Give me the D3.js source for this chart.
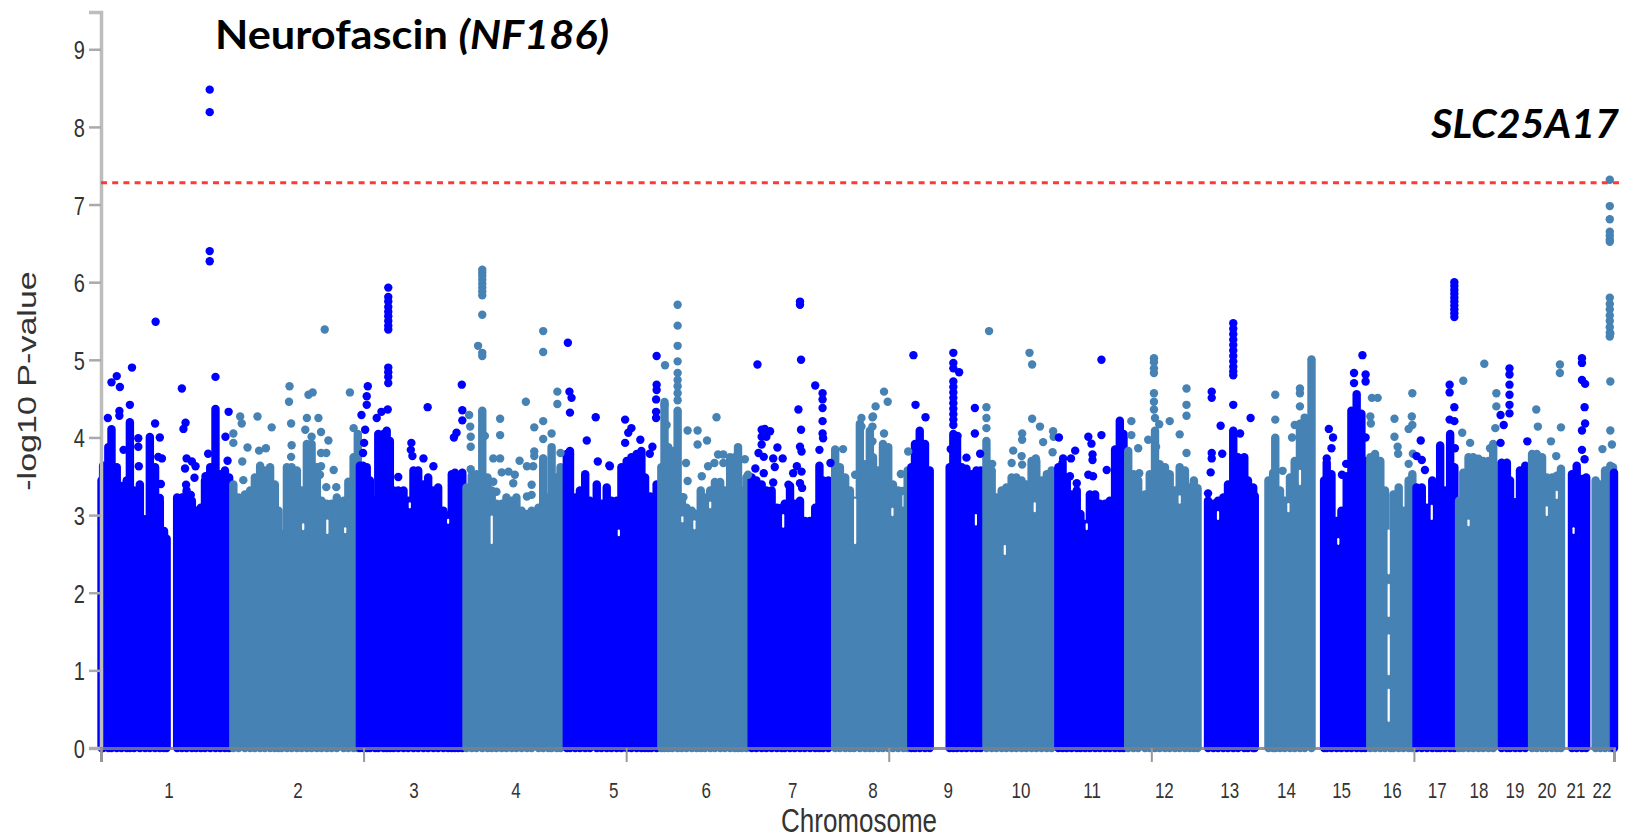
<!DOCTYPE html>
<html>
<head>
<meta charset="utf-8">
<script src="https://cdn.jsdelivr.net/npm/d3@7"></script>
<style>
  html, body { margin: 0; padding: 0; background: #fff; }
  svg { display: block; }
  text { font-family: "Liberation Sans", Arial, sans-serif; fill: #333; }
  .note { font-family: Lato, "Noto Sans", sans-serif; font-weight: 700; fill: #000; }
</style>
</head>
<body>
<div id="chart"></div>
<script>
// chromosome names and where each one ends on the genome axis (Mb)
const chromosomes = ["1","2","3","4","5","6","7","8","9","10","11","12","13","14","15","16","17","18","19","20","21","22"];
const chromEnds = [249,492,690,881,1062,1233,1392,1538,1679,1815,1950,2090,2199,2306,2409,2499,2580,2658,2717,2780,2828,2879];
const genomeEnd = 2881;
const xTicks = [0,500,1000,1500,2000,2500,2881];
const yTicks = [0,1,2,3,4,5,6,7,8,9];
const threshold = 7.28;

// top of the solid mass of points: [position Mb, -log10 P]
const skyline = [
  [1,3.5],[4,3.69],[14,3.93],[20,4.16],[30,3.67],[39,3.43],[49,3.5],[55,4.25],[63,3.37],[74,3.45],[84,3.0],[93,4.06],[103,3.67],[112,3.24],[120,2.85],[125,2.75],
  [145,3.28],[154,3.28],[163,3.37],[173,3.24],[181,3.11],[190,3.15],[198,3.5],[208,3.67],[218,4.42],[227,3.58],[236,3.63],[244,3.54],
  [252,3.45],[262,3.28],[274,3.32],[284,3.37],[293,3.54],[303,3.69],[312,3.63],[322,3.67],[331,3.45],[338,3.11],[344,2.81],[354,3.67],[363,3.67],[373,3.63],[382,3.37],[392,3.97],[401,3.97],[411,3.67],[420,3.24],[430,3.2],[439,3.2],[449,3.28],[462,3.24],[471,3.45],[481,3.8],[489,4.1],
  [493,3.69],[499,3.69],[506,3.67],[512,3.5],[522,3.24],[528,4.1],[538,4.1],[544,4.14],[550,4.01],[557,3.37],[566,3.37],[576,3.37],[585,3.24],[595,3.63],[604,3.63],[614,3.45],[623,3.54],[633,3.37],[642,3.41],[652,3.11],[661,3.05],[668,3.58],[674,3.6],[680,3.32],[688,3.6],
  [696,3.41],[706,3.56],[715,3.58],[726,4.4],[736,3.54],[744,3.37],[753,3.2],[763,3.2],[772,3.28],[782,3.24],[791,3.28],[801,3.11],[811,3.07],[820,3.11],[833,3.15],[842,3.78],[852,3.28],[858,3.93],[868,3.54],[875,3.67],
  [887,3.84],[893,3.88],[903,3.28],[912,3.37],[922,3.58],[931,3.24],[944,3.45],[953,3.2],[963,3.41],[972,3.24],[982,3.24],[991,3.67],[1001,3.75],[1010,3.8],[1020,3.84],[1029,3.88],[1036,3.54],[1042,3.07],[1048,3.28],[1058,3.45],
  [1067,3.67],[1073,4.51],[1080,3.93],[1088,3.88],[1098,4.4],[1106,3.28],[1115,3.15],[1125,3.11],[1134,3.07],[1142,3.37],[1150,3.28],[1160,3.37],[1169,3.48],[1179,3.48],[1188,3.37],[1198,3.8],[1207,3.8],[1213,3.93],[1220,3.37],[1229,3.54],
  [1239,3.54],[1248,3.5],[1258,3.45],[1267,3.37],[1277,3.37],[1287,3.15],[1296,3.15],[1302,3.2],[1312,3.43],[1321,3.2],[1331,3.24],[1340,2.98],[1350,2.98],[1360,3.15],[1368,3.69],[1375,3.5],[1385,3.5],
  [1398,3.9],[1407,3.67],[1417,3.54],[1426,3.37],[1434,3.24],[1445,4.23],[1455,3.71],[1464,4.14],[1470,3.8],[1480,3.63],[1489,3.97],[1499,3.93],[1508,3.45],[1518,3.37],[1528,3.11],[1536,3.63],
  [1543,3.67],[1550,3.97],[1559,4.14],[1569,3.97],[1578,3.63],
  [1616,3.67],[1623,4.1],[1630,4.05],[1639,3.67],[1648,3.65],[1658,3.58],[1667,3.63],[1675,3.63],
  [1686,4.01],[1696,3.63],[1705,3.28],[1715,3.37],[1724,3.41],[1734,3.54],[1743,3.54],[1753,3.5],[1762,3.45],[1772,3.75],[1781,3.75],[1791,3.5],[1801,3.58],[1810,3.63],
  [1823,3.67],[1831,3.73],[1839,3.54],[1848,3.32],[1858,3.37],[1865,3.07],[1874,2.94],[1883,3.32],[1893,3.32],[1902,3.2],[1912,3.2],[1921,3.24],[1931,3.9],[1940,4.27],[1947,4.1],
  [1956,3.88],[1966,3.58],[1975,3.5],[1988,3.32],[1997,3.58],[2007,4.14],[2016,3.71],[2026,3.67],[2035,3.58],[2045,3.37],[2054,3.67],[2064,3.63],[2073,3.41],[2081,3.5],[2088,3.4],
  [2108,3.24],[2118,3.2],[2127,3.24],[2137,3.28],[2146,3.45],[2156,4.14],[2165,3.8],[2177,3.8],[2184,3.5],[2194,3.41],[2197,3.3],
  [2223,3.5],[2232,3.6],[2236,4.05],[2245,3.37],[2254,3.24],[2264,3.54],[2273,3.75],[2283,4.23],[2292,4.31],[2305,5.06],
  [2329,3.5],[2334,3.73],[2343,3.58],[2353,2.98],[2362,3.11],[2372,3.54],[2381,4.4],[2391,4.61],[2400,4.36],[2407,3.75],
  [2417,3.8],[2426,3.84],[2436,3.75],[2445,3.37],[2455,2.81],[2461,3.32],[2471,3.41],[2480,3.11],[2490,3.5],[2497,3.58],
  [2505,3.41],[2515,3.41],[2525,3.15],[2535,3.5],[2544,3.37],[2550,3.95],[2559,3.37],[2569,4.1],[2577,3.67],
  [2586,3.24],[2594,3.6],[2604,3.8],[2613,3.8],[2623,3.78],[2632,3.75],[2642,3.75],[2651,3.97],
  [2667,3.73],[2677,3.73],[2683,3.5],[2693,3.22],[2702,3.63],[2712,3.69],
  [2725,3.84],[2734,3.84],[2744,3.8],[2753,3.54],[2763,3.54],[2772,3.56],[2780,3.65],
  [2801,3.58],[2810,3.69],[2820,3.52],[2828,3.54],
  [2846,3.5],[2855,3.45],[2864,3.63],[2874,3.69],[2879,3.67],[2881,3.6]
];

// single points standing clear of the mass: [position Mb, -log10 P]
const peaks = [
  // chr 1
  [207,8.48],[207,8.19],[207,6.4],[207,6.27],[104,5.49],[59,4.9],[30,4.79],[20,4.71],[36,4.65],[55,4.42],[35,4.34],[35,4.28],[13,4.25],[103,4.18],[154,4.63],[218,4.78],[161,4.19],[157,4.11],[243,4.33],[237,4.01],[204,3.79],[71,3.99],[71,3.88],[112,4.0],[109,3.75],[116,3.73],[43,3.84],[163,3.73],[173,3.69],[180,3.63],[160,3.6],[178,3.48],[199,3.5],[199,3.38],[162,3.39],[171,3.26],[241,3.7],[72,3.63],[114,3.4],[112,3.22],
  // chr 2
  [359,4.66],[358,4.46],[298,4.27],[265,4.27],[268,4.18],[325,4.13],[362,4.18],[395,4.55],[403,4.58],[474,4.58],[426,5.39],[392,4.25],[414,4.25],[389,4.1],[401,4.01],[419,4.07],[433,3.96],[252,4.05],[252,3.93],[279,3.87],[301,3.83],[314,3.86],[363,3.9],[362,3.75],[269,3.69],[271,3.45],[419,3.8],[429,3.8],[419,3.63],[417,3.52],[443,3.58],[429,3.36],[448,3.36],[471,3.43],[481,4.12],
  // chr 3
  [547,5.93],[547,5.81],[547,5.75],[547,5.68],[547,5.62],[547,5.56],[547,5.5],[547,5.44],[547,5.39],[547,4.9],[547,4.84],[547,4.78],[547,4.7],[508,4.66],[506,4.53],[506,4.42],[496,4.29],[503,4.1],[501,3.93],[499,3.8],[546,4.36],[534,4.33],[525,4.25],[622,4.39],[687,4.68],[677,4.06],[672,4.0],[688,4.35],[688,4.22],[591,3.93],[590,3.84],[593,3.76],[614,3.73],[633,3.63],[566,3.49],
  // chr 4
  [726,6.16],[726,6.12],[726,6.08],[726,6.03],[726,5.98],[726,5.93],[726,5.88],[726,5.83],[726,5.58],[718,5.18],[726,5.09],[726,5.05],[842,5.37],[842,5.1],[809,4.46],[869,4.59],[869,4.43],[760,4.24],[760,4.03],[825,4.13],[842,4.21],[842,3.98],[858,4.05],[701,4.29],[703,4.14],[704,4.01],[704,3.88],[731,4.02],[747,3.73],[760,3.73],[797,3.7],[825,3.82],[825,3.76],[842,3.73],[811,3.63],[823,3.63],[875,3.8],[704,3.59],[763,3.55],[776,3.56],[788,3.52],[747,3.43],[753,3.3],[785,3.41],[820,3.39],[811,3.24],[820,3.26],
  // chr 5
  [889,5.22],[892,4.59],[896,4.51],[893,4.32],[942,4.26],[925,3.96],[946,3.69],[968,3.64],[893,3.78],[998,4.23],[1010,4.12],[1004,4.06],[998,3.93],[1027,3.97],[1050,3.88],[1045,3.79],[1058,5.05],[1058,4.68],[1058,4.61],[1057,4.49],[1057,4.33],[1057,4.25],[969,3.63],[1046,3.24],
  // chr 6
  [1074,4.93],[1098,5.71],[1098,5.44],[1098,5.18],[1098,4.98],[1098,4.83],[1098,4.74],[1098,4.66],[1098,4.57],[1098,4.48],[1073,4.42],[1077,4.16],[1117,4.09],[1136,4.09],[1136,3.91],[1154,3.96],[1172,4.26],[1114,3.67],[1117,3.44],[1226,3.72],[1144,3.5],[1156,3.63],[1109,3.23],[1175,3.78],[1185,3.78],[1185,3.67],[1168,3.67],[1232,3.52],
  // chr 7
  [1250,4.94],[1331,5.75],[1331,5.71],[1333,5.0],[1360,4.67],[1374,4.57],[1374,4.49],[1374,4.38],[1374,4.21],[1374,4.05],[1375,3.99],[1328,4.36],[1333,4.1],[1258,4.1],[1264,4.11],[1274,4.08],[1258,4.01],[1267,4.01],[1288,3.87],[1258,3.91],[1252,3.8],[1262,3.75],[1280,3.73],[1298,3.73],[1283,3.62],[1331,3.88],[1334,3.82],[1325,3.63],[1334,3.56],[1318,3.54],[1331,3.41],[1335,3.35],[1368,3.84],[1389,3.67],[1246,3.6],[1262,3.54],[1280,3.42],[1309,3.39],
  // chr 8
  [1413,3.85],[1436,3.52],[1448,4.25],[1448,4.14],[1469,4.26],[1469,4.14],[1475,4.4],[1469,3.95],[1491,4.59],[1498,4.46],[1470,4.27],[1491,4.05],[1523,3.53],[1526,3.31],[1537,3.82],
  // chr 9
  [1547,5.06],[1551,4.42],[1570,4.26],[1623,5.09],[1623,4.96],[1623,4.89],[1623,4.72],[1623,4.65],[1623,4.58],[1623,4.51],[1623,4.44],[1623,4.37],[1623,4.3],[1623,4.23],[1623,4.16],[1634,4.84],[1664,4.38],[1664,4.05],[1674,3.79],[1618,3.85],[1631,4.02],[1648,3.74],
  // chr 10
  [1691,5.37],[1686,4.39],[1686,4.25],[1686,4.12],[1768,5.09],[1773,4.94],[1773,4.24],[1788,4.14],[1813,4.08],[1814,4.01],[1794,3.94],[1754,4.05],[1754,3.97],[1737,3.83],[1753,3.76],[1734,3.67],[1754,3.65],[1780,3.73],[1812,3.81],[1697,3.66],
  // chr 11
  [1905,5.0],[1905,4.03],[1824,4.0],[1855,3.83],[1847,3.73],[1832,3.73],[1880,4.01],[1886,3.92],[1888,3.78],[1888,3.71],[1880,3.52],[1889,3.5],[1858,3.41],[1915,3.58],[1845,3.5],[1858,3.2],
  // chr 12
  [2005,5.02],[2005,4.97],[2005,4.89],[2005,4.83],[2005,4.57],[2005,4.46],[2005,4.36],[2007,4.25],[2015,4.17],[1994,3.97],[2009,3.88],[1962,4.21],[1962,4.03],[1975,3.86],[2035,4.21],[2054,4.04],[2067,4.63],[2067,4.42],[2067,4.28],[2067,3.8],[1977,3.54],
  // chr 13
  [2156,5.47],[2156,5.4],[2156,5.33],[2156,5.26],[2156,5.19],[2156,5.12],[2156,5.05],[2156,4.98],[2156,4.91],[2156,4.85],[2156,4.8],[2115,4.59],[2115,4.51],[2156,4.42],[2132,4.15],[2135,3.79],[2189,4.25],[2169,4.05],[2115,3.8],[2115,3.73],[2113,3.55],[2108,3.28],
  // chr 14
  [2236,4.55],[2236,4.23],[2283,4.63],[2283,4.57],[2283,4.4],[2273,4.16],[2268,4.0],[2250,3.57],
  // chr 15
  [2402,5.06],[2386,4.83],[2386,4.7],[2408,4.81],[2408,4.72],[2338,4.11],[2346,4.0],[2343,3.86],[2334,3.73],[2371,3.66],[2363,3.52],[2373,3.5],[2408,4.0],
  // chr 16
  [2420,4.51],[2431,4.51],[2417,4.27],[2418,4.18],[2463,4.24],[2463,4.01],[2469,3.88],[2470,3.79],[2497,4.57],[2496,4.27],[2497,4.16],[2490,4.11],[2490,3.66],[2498,3.79],
  // chr 17
  [2577,6.0],[2577,5.95],[2577,5.9],[2577,5.85],[2577,5.8],[2577,5.75],[2577,5.7],[2577,5.65],[2577,5.6],[2577,5.55],[2513,3.96],[2505,3.76],[2515,3.71],[2521,3.58],[2535,3.43],[2568,4.68],[2568,4.58],[2577,4.39],[2568,4.23],[2577,4.21],[2578,3.86],
  // chr 18
  [2634,4.95],[2594,4.73],[2592,4.06],[2607,3.93],[2657,4.57],[2657,4.4],[2655,4.12],[2645,3.86],
  // chr 19
  [2682,4.89],[2682,4.81],[2682,4.68],[2682,4.55],[2682,4.42],[2682,4.31],[2665,4.29],[2671,4.16],[2665,3.93],[2716,3.95],
  // chr 20
  [2733,4.36],[2736,4.14],[2761,3.95],[2771,3.76],[2778,4.94],[2778,4.83],[2780,4.13],
  // chr 21
  [2820,5.02],[2820,4.96],[2820,4.74],[2826,4.69],[2825,4.39],[2826,4.18],[2820,4.09],[2820,3.84],[2825,3.72],
  // chr 22
  [2873,7.32],[2873,6.98],[2873,6.81],[2873,6.65],[2873,6.6],[2873,6.55],[2873,6.52],[2873,5.8],[2873,5.72],[2873,5.65],[2873,5.57],[2873,5.5],[2873,5.42],[2873,5.35],[2873,5.3],[2874,5.34],[2874,4.72],[2859,3.85],[2874,4.09],[2877,3.91]
];

// white slits inside the mass: [position Mb, from, to]
const holes = [
  [385,2.82,2.88],[431,2.77,2.93],[465,2.78,2.83],[744,2.64,2.98],[661,2.9,2.94],[588,3.1,3.15],[1107,2.92,2.97],[1130,2.83,2.92],
  [1160,3.1,3.16],[1299,2.85,3.0],[986,2.74,2.8],[1436,2.64,3.2],[1507,3.0,3.08],[1778,3.05,3.15],[1666,2.88,3.0],[1877,2.82,2.88],
  [1721,2.5,2.6],[2054,3.16,3.24],[2127,2.95,3.04],[2283,3.4,3.57],[2261,3.05,3.14],[2356,2.63,2.69],[2534,2.95,3.12],[2753,3.0,3.1],
  [2772,3.22,3.3],[2604,2.87,2.93],[2804,2.77,2.83],[2452,0.35,0.75],[2452,0.95,1.45],[2452,1.7,2.1],[2452,2.25,2.8]
];

const blue = "#0000ff", steel = "#4682b4";
const radius = 4.2;

const svg = d3.select("#chart").append("svg").attr("width", 1625).attr("height", 839);

const defs = svg.append("defs");
defs.append("filter").attr("id", "soft")
  .append("feGaussianBlur").attr("stdDeviation", 0.55);

const x = d3.scaleLinear().domain([0, genomeEnd]).range([101, 1614]);
const y = d3.scaleLinear().domain([0, 9.48]).range([748, 12]);

// colour alternates with the chromosome a position falls in
const colourOf = mb => d3.bisectLeft(chromEnds, mb) % 2 === 0 ? blue : steel;

const plot = svg.append("g").attr("filter", "url(#soft)");

// the solid mass, as fat round-capped strokes
plot.append("g").selectAll("line").data(skyline).join("line")
  .attr("x1", d => x(d[0])).attr("x2", d => x(d[0]))
  .attr("y1", y(0)).attr("y2", d => y(d[1]) + radius)
  .attr("stroke", d => colourOf(d[0]))
  .attr("stroke-width", radius * 2)
  .attr("stroke-linecap", "round");

plot.append("g").selectAll("line").data(holes).join("line")
  .attr("x1", d => x(d[0])).attr("x2", d => x(d[0]))
  .attr("y1", d => y(d[1])).attr("y2", d => y(d[2]))
  .attr("stroke", "#fff")
  .attr("stroke-width", 2.2)
  .attr("stroke-linecap", "round");

plot.append("g").selectAll("circle").data(peaks).join("circle")
  .attr("cx", d => x(d[0])).attr("cy", d => y(d[1]))
  .attr("r", radius)
  .attr("fill", d => colourOf(d[0]));

// axes
const yAxis = d3.axisLeft(y).tickValues(yTicks).tickSize(12).tickPadding(0).tickFormat(d3.format("d"));
const yG = svg.append("g").attr("transform", "translate(101,0)").call(yAxis);
yG.select(".domain").attr("stroke", "#bdbdbd").attr("stroke-width", 3.5);
yG.selectAll(".tick line").attr("stroke", "#aaa").attr("stroke-width", 2.5);
yG.selectAll(".tick text")
  .attr("font-size", 20)
  .attr("dy", null)
  .attr("x", null)
  .attr("text-anchor", "end")
  .attr("transform", "translate(-16,9.5) scale(1,1.3)");

const xAxis = d3.axisBottom(x).tickValues(xTicks).tickSize(14).tickFormat("");
const xG = svg.append("g").attr("transform", "translate(0,748)").call(xAxis);
xG.select(".domain").attr("stroke", "#808080").attr("stroke-opacity", 0.85).attr("stroke-width", 3);
xG.selectAll(".tick line").attr("stroke", "#999").attr("stroke-width", 2);

// chromosome names centred on each chromosome
svg.append("g").selectAll("text").data(chromosomes).join("text")
  .attr("text-anchor", "middle")
  .attr("font-size", 17)
  .attr("transform", (d, i) => {
    const start = i === 0 ? 0 : chromEnds[i - 1];
    return `translate(${x((start + chromEnds[i]) / 2) + 2.5},798) scale(1,1.3)`;
  })
  .text(d => d);

// axis titles
svg.append("text")
  .attr("text-anchor", "middle")
  .attr("font-size", 26)
  .attr("transform", "translate(859,832) scale(1,1.25)")
  .text("Chromosome");

svg.append("text")
  .attr("text-anchor", "middle")
  .attr("font-size", 26)
  .attr("transform", "translate(36,381) rotate(-90) scale(1.31,1)")
  .text("-log10 P-value");

// significance line
svg.append("line")
  .attr("x1", x(0)).attr("x2", 1619)
  .attr("y1", y(threshold)).attr("y2", y(threshold))
  .attr("stroke", "#ff3838")
  .attr("stroke-width", 3)
  .attr("stroke-dasharray", "6,5.2");

// gene labels
const nf = svg.append("text").attr("class", "note")
  .attr("font-size", 40)
  .attr("transform", "translate(215,49) scale(1.083,1)");
nf.append("tspan").text("Neurofascin ");
nf.append("tspan").attr("font-style", "italic").text("(NF186)");

svg.append("text").attr("class", "note")
  .attr("font-size", 40)
  .attr("font-style", "italic").attr("text-anchor", "end")
  .attr("transform", "translate(1619,138) scale(1.03,1)")
  .text("SLC25A17");
</script>
</body>
</html>
